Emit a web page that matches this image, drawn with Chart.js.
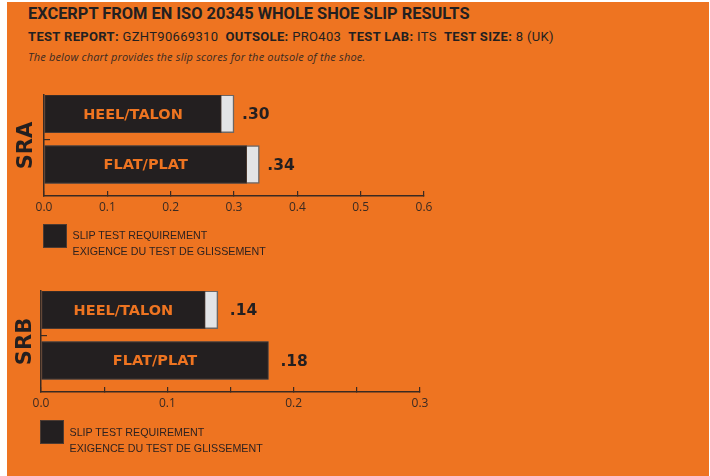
<!DOCTYPE html>
<html>
<head>
<meta charset="utf-8">
<script src="https://cdn.jsdelivr.net/npm/chart.js@4.4.1/dist/chart.umd.min.js"></script>
<style>
  html, body { margin: 0; padding: 0; background: #fff; }
  body { width: 710px; height: 476px; position: relative; overflow: hidden; }
  #bg { position: absolute; left: 7px; top: 2px; width: 702px; height: 474px; background: #EE7421; }
  .txt { position: absolute; color: #231F20; white-space: nowrap; }
  #title { left: 28px; top: 4px; font: 700 16.4px/20px Roboto, sans-serif; }
  #info { left: 28px; top: 28.5px; font: 400 13px/16px Roboto, sans-serif; letter-spacing: 0.33px; }
  #info b { font-weight: 700; }
  #note { left: 28px; top: 49.5px; font: italic 400 11px/14px "Open Sans", sans-serif; letter-spacing: 0.18px; color: #3a2a22; }
  .sq { position: absolute; width: 22px; height: 22px; background: #231F20; border: 1px solid #4d3a30; }
  .leg { position: absolute; font: 400 10.7px/15.5px "Liberation Sans", Arial, sans-serif; color: #2e2220; white-space: nowrap; }
  canvas { position: absolute; left: 0; }
</style>
</head>
<body>
<div id="bg"></div>
<div class="txt" id="title">EXCERPT FROM EN ISO 20345 WHOLE SHOE SLIP RESULTS</div>
<div class="txt" id="info"><b>TEST REPORT:</b> GZHT90669310&nbsp;&nbsp;<b>OUTSOLE:</b> PRO403&nbsp;&nbsp;<b>TEST LAB:</b> ITS&nbsp;&nbsp;<b>TEST SIZE:</b> 8 (UK)</div>
<div class="txt" id="note">The below chart provides the slip scores for the outsole of the shoe.</div>

<canvas id="sra" width="454" height="140" style="top:85px"></canvas>
<canvas id="srb" width="450" height="140" style="top:281px"></canvas>

<div class="sq" style="left:43px; top:224px"></div>
<div class="leg" style="left:72.5px; top:228px">SLIP TEST REQUIREMENT<br>EXIGENCE DU TEST DE GLISSEMENT</div>
<div class="sq" style="left:40px; top:420px"></div>
<div class="leg" style="left:69.5px; top:424px; line-height:16px">SLIP TEST REQUIREMENT<br>EXIGENCE DU TEST DE GLISSEMENT</div>

<script>
// data
const categories = ["HEEL/TALON", "FLAT/PLAT"];
const sraRequirement = [0.28, 0.32];
const sraResult = [0.30, 0.34];
const srbRequirement = [0.13, 0.18];
const srbResult = [0.14, 0.18];
const sraTicks = [0, 0.1, 0.2, 0.3, 0.4, 0.5, 0.6];
const sraTickLabels = ["0.0", "0.1", "0.2", "0.3", "0.4", "0.5", "0.6"];
const srbTicks = [0, 0.05, 0.1, 0.15, 0.2, 0.25, 0.3];
const srbTickLabels = ["0.0", "", "0.1", "", "0.2", "", "0.3"];

const orange = "#EE7421";
const dark = "#231F20";
const axisColor = "#3a2a22";

// labels inside the black bar and value after the bar
const barText = {
  id: "barText",
  afterDatasetsDraw(chart, args, opts) {
    const ctx = chart.ctx;
    const req = chart.getDatasetMeta(0).data;
    const res = chart.getDatasetMeta(1).data;
    const values = chart.data.datasets[1].data;
    ctx.save();
    ctx.textBaseline = "middle";
    req.forEach((bar, i) => {
      ctx.font = "bold 14.5px 'DejaVu Sans'";
      ctx.fillStyle = orange;
      ctx.textAlign = "center";
      ctx.fillText(categories[i], (bar.base + bar.x) / 2, bar.y + 1);
      ctx.font = "bold 15.5px 'DejaVu Sans'";
      ctx.fillStyle = dark;
      ctx.textAlign = "left";
      ctx.fillText(values[i].x.toFixed(2).replace(/^0/, ""), res[i].x + opts.gap, res[i].y + 1);
    });
    ctx.restore();
  }
};

function makeChart(id, title, requirement, result, xmax, ticks, tickLabels, padLeft, yWidth, gap) {
  return new Chart(document.getElementById(id), {
    type: "bar",
    data: {
      datasets: [
        {
          label: "SLIP TEST REQUIREMENT",
          data: requirement.map((v, i) => ({ x: v, y: i })),
          backgroundColor: dark,
          borderColor: "#4a382f",
          borderWidth: 1,
          borderSkipped: false,
          barThickness: 38,
          grouped: false
        },
        {
          label: "RESULT",
          data: result.map((v, i) => ({ x: v, y: i })),
          backgroundColor: "#E3E4E6",
          borderColor: "#6d6663",
          borderWidth: 1.5,
          borderSkipped: false,
          barThickness: 38,
          grouped: false
        }
      ]
    },
    options: {
      indexAxis: "y",
      responsive: false,
      animation: false,
      layout: { padding: { left: padLeft, top: 10, right: 30, bottom: 5 } },
      plugins: {
        legend: { display: false },
        tooltip: { enabled: false },
        barText: { gap: gap }
      },
      scales: {
        x: {
          type: "linear",
          min: 0,
          max: xmax,
          afterBuildTicks: s => { s.ticks = ticks.map(v => ({ value: v })); },
          ticks: {
            callback: (v, i) => tickLabels[i],
            font: { family: "Open Sans", size: 12 },
            color: axisColor,
            padding: 9,
            autoSkip: false,
            maxRotation: 0
          },
          grid: { drawOnChartArea: false, drawTicks: true, tickLength: -5, color: axisColor, lineWidth: 1.2 },
          border: { color: axisColor, width: 1.5 },
          afterFit: s => { s.height = 24; }
        },
        y: {
          type: "linear",
          reverse: true,
          offset: false,
          min: -0.37,
          max: 1.62,
          afterBuildTicks: s => { s.ticks = [{ value: 0.5 }]; },
          ticks: { display: false },
          grid: { offset: false, drawOnChartArea: false, drawTicks: true, tickLength: -6, color: axisColor, lineWidth: 1.2 },
          border: { color: axisColor, width: 1.5 },
          title: {
            display: true,
            text: title,
            color: dark,
            font: { family: "DejaVu Sans", weight: "bold", size: 21 },
            padding: { top: 4, bottom: 0 }
          },
          afterFit: s => { s.width = yWidth; }
        }
      }
    },
    plugins: [barText]
  });
}

makeChart("sra", "SRA", sraRequirement, sraResult, 0.6, sraTicks, sraTickLabels, 10, 34, 8);
makeChart("srb", "SRB", srbRequirement, srbResult, 0.3, srbTicks, srbTickLabels, 9, 32, 12);
</script>
</body>
</html>
